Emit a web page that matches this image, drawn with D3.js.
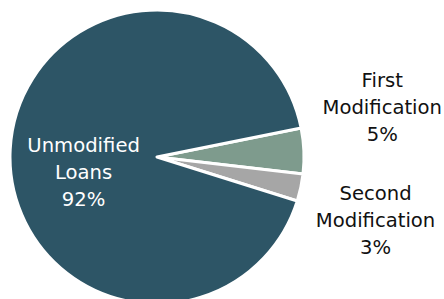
<!DOCTYPE html>
<html>
<head>
<meta charset="utf-8">
<script src="https://cdn.jsdelivr.net/npm/d3@7"></script>
<style>
  html, body { margin: 0; padding: 0; background: #fff; }
  svg text { font-family: "DejaVu Sans", sans-serif; }
</style>
</head>
<body>
<div id="chart"></div>
<script>
// data
const categories = ["First Modification", "Second Modification", "Unmodified Loans"];
const shares = [5, 3, 92];
const labelLines = [["First", "Modification", "5%"], ["Second", "Modification", "3%"], ["Unmodified", "Loans", "92%"]];
const colors = ["#7e9b8d", "#a6a6a6", "#2d5566"];

const width = 444, height = 299;
const cx = 157, cy = 157, radius = 147;

const svg = d3.select("#chart")
    .append("svg")
    .attr("width", width)
    .attr("height", height);

const g = svg.append("g")
    .attr("transform", "translate(" + cx + "," + cy + ")");

const pie = d3.pie()
    .sort(null)
    .startAngle(78.6 * Math.PI / 180)
    .endAngle(78.6 * Math.PI / 180 + 2 * Math.PI);

const arc = d3.arc().innerRadius(0).outerRadius(radius);

const arcs = pie(shares);

g.selectAll("path")
    .data(arcs)
    .enter().append("path")
    .attr("d", arc)
    .attr("fill", function(d, i) { return colors[i]; })
    .attr("stroke", "#fff")
    .attr("stroke-width", 3)
    .attr("stroke-linejoin", "round");

// label placement: inside label for the big slice, outside for the small ones
const insideArc = d3.arc().innerRadius(radius * 0.5).outerRadius(radius * 0.5);
const outsideArc = d3.arc().innerRadius(radius * 1.52).outerRadius(radius * 1.52);
const nudge = [[2, -41], [0, 17], [0, 19]];

const labels = g.selectAll("text.lbl")
    .data(arcs)
    .enter().append("text")
    .attr("class", "lbl")
    .attr("text-anchor", "middle")
    .attr("font-size", "19.6px")
    .attr("fill", function(d, i) { return i === 2 ? "#fff" : "#111"; })
    .attr("transform", function(d, i) {
        const c = (i === 2 ? insideArc : outsideArc).centroid(d);
        return "translate(" + (c[0] + nudge[i][0]) + "," + (c[1] + nudge[i][1]) + ")";
    });

labels.selectAll("tspan")
    .data(function(d, i) { return labelLines[i].map(function(t, k) { return {t: t, k: k}; }); })
    .enter().append("tspan")
    .attr("x", 0)
    .attr("y", function(d) { return (d.k - 1) * 27 + 7; })
    .text(function(d) { return d.t; });
</script>
</body>
</html>
